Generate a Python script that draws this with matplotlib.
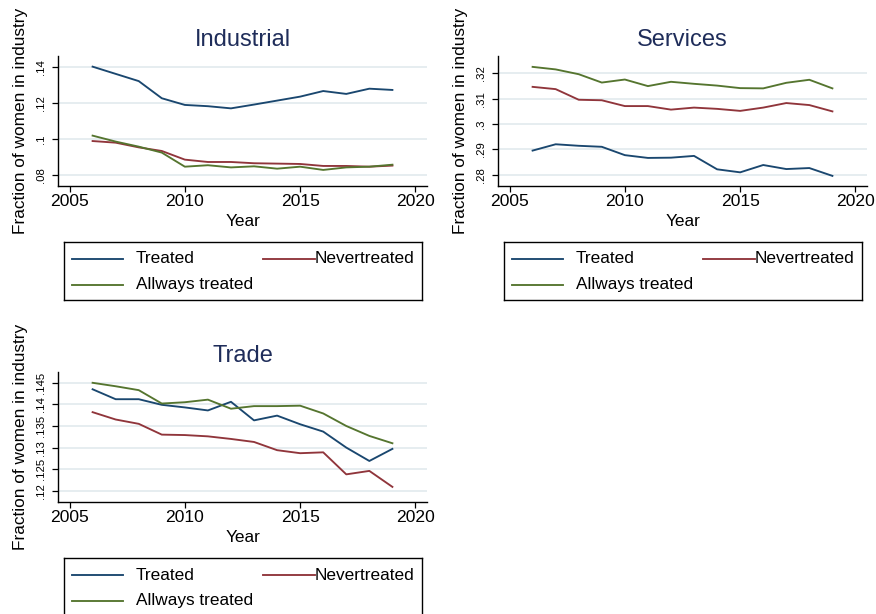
import matplotlib
matplotlib.use("Agg")
import matplotlib.pyplot as plt

plt.rcParams['font.family'] = ['Liberation Sans', 'DejaVu Sans']

years = list(range(2006, 2020))

# Industrial
ind_treated = [.1400, .1360, .1320, .1225, .1188, .1181, .1169, .1190, .1212, .1234, .1265, .1249, .1278, .1271]
ind_never = [.0988, .0979, .0953, .0933, .0885, .0872, .0872, .0865, .0863, .0861, .0850, .0850, .0846, .0852]
ind_always = [.1018, .0985, .0957, .0924, .0846, .0854, .0842, .0848, .0835, .0846, .0828, .0842, .0846, .0857]

# Services
ser_treated = [.2895, .2920, .2914, .2910, .2877, .2866, .2867, .2874, .2821, .2809, .2838, .2822, .2826, .2795]
ser_never = [.3147, .3138, .3096, .3094, .3071, .3071, .3057, .3065, .3060, .3052, .3065, .3083, .3075, .3050]
ser_always = [.3226, .3216, .3197, .3164, .3176, .3150, .3167, .3159, .3152, .3142, .3141, .3163, .3175, .3141]

# Trade
tra_treated = [.1435, .1412, .1412, .1399, .1393, .1386, .1406, .1363, .1374, .1354, .1337, .1300, .1269, .1297]
tra_never = [.1382, .1365, .1355, .1330, .1329, .1326, .1320, .1313, .1294, .1287, .1289, .1238, .1246, .1209]
tra_always = [.1450, .1442, .1433, .1402, .1405, .1411, .1390, .1396, .1396, .1397, .1379, .1350, .1327, .1310]

x_ticks = [2005, 2010, 2015, 2020]
ind_yticks = [.08, .10, .12, .14]
ind_ylabels = ['.08', '.1', '.12', '.14']
ser_yticks = [.28, .29, .30, .31, .32]
ser_ylabels = ['.28', '.29', '.3', '.31', '.32']
tra_yticks = [.12, .125, .13, .135, .14, .145]
tra_ylabels = ['.12', '.125', '.13', '.135', '.14', '.145']

series_names = ['Treated', 'Nevertreated', 'Allways treated']
colors = ['#1a476f', '#90353b', '#55752f']
title_color = '#1f2d5a'
grid_color = '#e4ecef'

W, H = 876, 614
fig = plt.figure(figsize=(W / 100, H / 100), dpi=100)
fig.patch.set_facecolor('white')


def px_axes(left, top, width, height):
    return fig.add_axes([left / W, 1 - (top + height) / H, width / W, height / H])


def draw_panel(left, top, title, yvals, yticks, ylabels, ylim):
    ax = px_axes(left, top, 369, 130)
    for vals, c in zip(yvals, colors):
        ax.plot(years, vals, color=c, lw=1.35)
    ax.set_xlim(2004.5, 2020.5)
    ax.set_ylim(*ylim)
    ax.set_xticks(x_ticks)
    ax.set_yticks(yticks)
    ax.set_yticklabels(ylabels, rotation=90, va='center', fontsize=8.2)
    ax.tick_params(axis='x', labelsize=12.6, length=4, width=0.9, pad=1.5)
    ax.tick_params(axis='y', length=4.6, width=0.9, pad=4)
    ax.yaxis.grid(True, color=grid_color, lw=1.3)
    ax.set_axisbelow(True)
    for s in ['top', 'right']:
        ax.spines[s].set_visible(False)
    for s in ['left', 'bottom']:
        ax.spines[s].set_linewidth(1.0)
    ax.set_xlabel('Year', fontsize=12.4, labelpad=3.5)
    ax.set_ylabel('Fraction of women in industry', fontsize=12.4, labelpad=6)
    ax.set_title(title, fontsize=17, color=title_color, pad=7)

    # legend box below the panel
    bw, bh = 358, 58
    lax = px_axes(left + 6, top + 186, bw, bh)
    lax.set_xlim(0, bw)
    lax.set_ylim(bh, 0)
    lax.set_xticks([])
    lax.set_yticks([])
    for s in lax.spines.values():
        s.set_linewidth(1.0)
    entries = [(8, 59, 72, 17), (199, 251, 251, 17), (8, 59, 72, 43)]
    for (x0, x1, tx, ty), name, c in zip(entries, series_names, colors):
        lax.plot([x0, x1], [ty, ty], color=c, lw=1.35)
        lax.text(tx, ty, name, fontsize=12.4, va='center', ha='left')
    return ax


draw_panel(58, 56, 'Industrial', [ind_treated, ind_never, ind_always],
           ind_yticks, ind_ylabels, (0.0739, 0.1459))
draw_panel(498, 56, 'Services', [ser_treated, ser_never, ser_always],
           ser_yticks, ser_ylabels, (0.2755, 0.3269))
draw_panel(58, 372, 'Trade', [tra_treated, tra_never, tra_always],
           tra_yticks, tra_ylabels, (0.1174, 0.1475))

fig.savefig('out.png', dpi=100)
